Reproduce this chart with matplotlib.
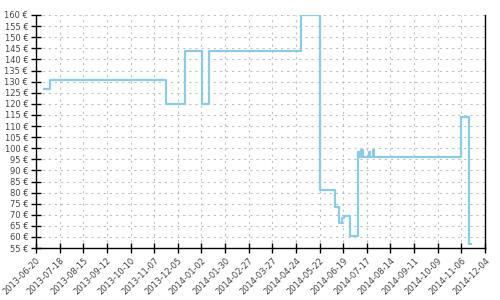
import matplotlib
matplotlib.use("Agg")
import matplotlib.pyplot as plt
import numpy as np
import pandas as pd

# Price history (step chart)
dates = ["2013-06-29", "2013-07-07", "2013-11-21", "2013-12-14", "2014-01-03",
         "2014-01-11", "2014-04-30", "2014-05-22", "2014-06-09", "2014-06-14",
         "2014-06-18", "2014-06-20", "2014-06-27", "2014-07-06", "2014-07-08",
         "2014-07-10", "2014-07-13", "2014-07-19", "2014-07-21", "2014-07-24",
         "2014-07-26", "2014-11-05", "2014-11-15", "2014-11-18"]
prices = [126.5, 130.5, 120, 144, 120,
          144, 160, 81, 73.5, 66.5,
          68.5, 69.5, 60.5, 98.5, 96,
          99, 96, 98.5, 96, 99,
          96, 114, 57, 57]

tick_start = "2013-06-20"
tick_end = "2014-12-04"

x = pd.to_datetime(dates)
ticks = pd.date_range(tick_start, tick_end, freq="28D")

fig = plt.figure(figsize=(5, 3), dpi=100)
ax = fig.add_axes([0.072, 0.173, 0.898, 0.777])

ax.plot(x, prices, drawstyle="steps-post", color="#87cdea", lw=1.6)

ax.set_xlim(ticks[0], ticks[-1])
ax.set_ylim(55, 160)
ax.set_yticks(np.arange(55, 161, 5))
ax.set_yticklabels([f"{v} €" for v in range(55, 161, 5)])
ax.set_xticks(ticks)
ax.set_xticklabels([t.strftime("%Y-%m-%d") for t in ticks], rotation=45,
                   ha="right", rotation_mode="anchor")

ax.grid(True, color="#c0c0c0", linestyle=(0, (2, 3.5)), lw=0.8)
ax.tick_params(direction="inout", length=7, width=1, labelsize=6,
               labelcolor="#444444", pad=2)
ax.spines["top"].set_visible(False)
for s in ["left", "bottom", "right"]:
    ax.spines[s].set_linewidth(1)

fig.savefig("out.png", dpi=100)
